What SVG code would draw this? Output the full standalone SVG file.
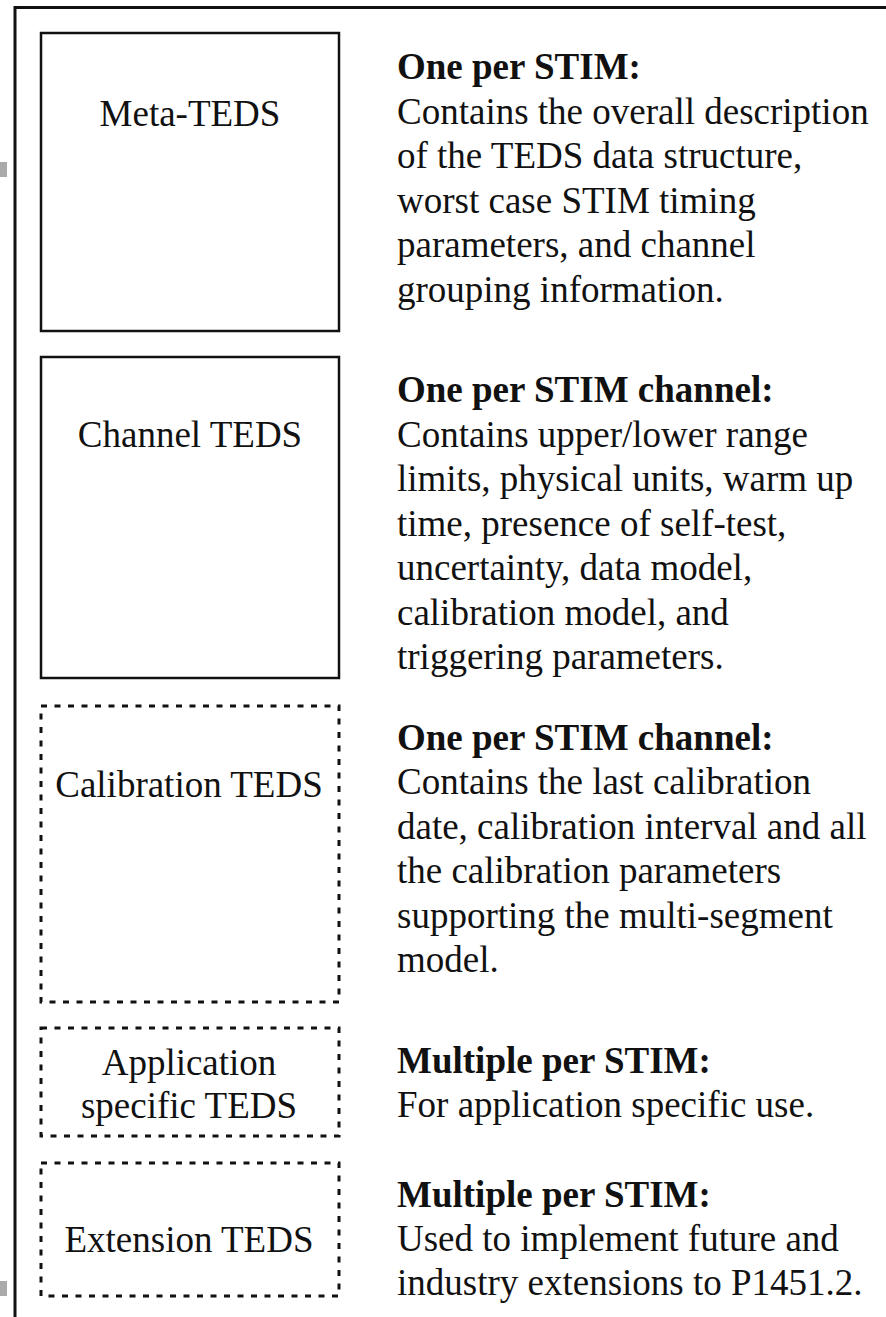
<svg xmlns="http://www.w3.org/2000/svg" width="886" height="1317" viewBox="0 0 886 1317">
<style>
.frame{stroke:#111;stroke-width:3;fill:none}
.solid{fill:#fff;stroke:#111;stroke-width:2.5}
.dash{fill:#fff;stroke:#111;stroke-width:3;stroke-dasharray:6 7.5}
.lbl{font-family:"Liberation Serif","Times New Roman",serif;font-size:37px;fill:#111;text-anchor:middle}
.hd{font-family:"Liberation Serif","Times New Roman",serif;font-size:37px;font-weight:bold;fill:#111}
.tx{font-family:"Liberation Serif","Times New Roman",serif;font-size:37px;fill:#111}
.mark{fill:#aaa}
</style>
<rect width="886" height="1317" fill="#fff"/>
<g id="frame">
<line class="frame" x1="14" y1="7.5" x2="886" y2="7.5"/>
<line class="frame" x1="15" y1="6" x2="15" y2="1317"/>
<rect class="mark" x="0" y="162" width="7" height="15"/>
<rect class="mark" x="0" y="1281" width="7" height="15"/>
</g>
<g id="meta-teds">
<rect class="solid" x="41" y="33" width="298" height="298"/>
<text class="lbl" x="190" y="126">Meta-TEDS</text>
<text class="hd" x="397" y="79">One per STIM:</text>
<text class="tx" x="397" y="123.5">Contains the overall description</text>
<text class="tx" x="397" y="168">of the TEDS data structure,</text>
<text class="tx" x="397" y="212.5">worst case STIM timing</text>
<text class="tx" x="397" y="257">parameters, and channel</text>
<text class="tx" x="397" y="301.5">grouping information.</text>
</g>
<g id="channel-teds">
<rect class="solid" x="41" y="357" width="298" height="321"/>
<text class="lbl" x="190" y="447">Channel TEDS</text>
<text class="hd" x="397" y="402">One per STIM channel:</text>
<text class="tx" x="397" y="446.5">Contains upper/lower range</text>
<text class="tx" x="397" y="491">limits, physical units, warm up</text>
<text class="tx" x="397" y="535.5">time, presence of self-test,</text>
<text class="tx" x="397" y="580">uncertainty, data model,</text>
<text class="tx" x="397" y="624.5">calibration model, and</text>
<text class="tx" x="397" y="669">triggering parameters.</text>
</g>
<g id="calibration-teds">
<rect class="dash" x="41" y="706" width="298" height="296"/>
<text class="lbl" x="189" y="797">Calibration TEDS</text>
<text class="hd" x="397" y="750">One per STIM channel:</text>
<text class="tx" x="397" y="794">Contains the last calibration</text>
<text class="tx" x="397" y="838.5">date, calibration interval and all</text>
<text class="tx" x="397" y="883">the calibration parameters</text>
<text class="tx" x="397" y="927.5">supporting the multi-segment</text>
<text class="tx" x="397" y="972">model.</text>
</g>
<g id="application-teds">
<rect class="dash" x="41" y="1028" width="298" height="108"/>
<text class="lbl" x="189" y="1075">Application</text>
<text class="lbl" x="189" y="1118">specific TEDS</text>
<text class="hd" x="397" y="1073">Multiple per STIM:</text>
<text class="tx" x="397" y="1117">For application specific use.</text>
</g>
<g id="extension-teds">
<rect class="dash" x="41" y="1163" width="298" height="133"/>
<text class="lbl" x="189" y="1252">Extension TEDS</text>
<text class="hd" x="397" y="1207">Multiple per STIM:</text>
<text class="tx" x="397" y="1250.5">Used to implement future and</text>
<text class="tx" x="397" y="1295">industry extensions to P1451.2.</text>
</g>
<g id="connectors"></g>
</svg>
